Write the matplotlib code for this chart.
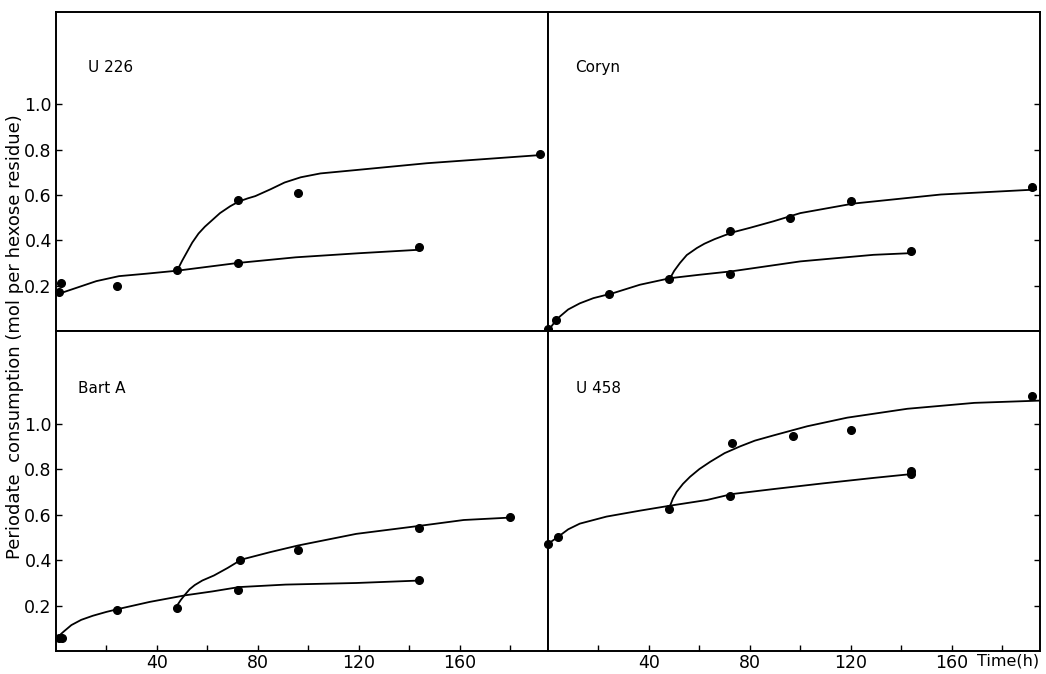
import matplotlib
matplotlib.use("Agg")
import matplotlib.pyplot as plt

plt.rcParams['font.family'] = ['DejaVu Sans']

# ---------------- data ----------------
panel_names = ["U 226", "Coryn", "Bart A", "U 458"]

# measured points
u226_t = [1, 2, 24, 48, 72, 72, 96, 144, 192]
u226_v = [0.17, 0.21, 0.20, 0.27, 0.30, 0.58, 0.61, 0.37, 0.78]
coryn_t = [0, 3, 24, 48, 72, 72, 96, 120, 144, 192]
coryn_v = [0.01, 0.05, 0.165, 0.23, 0.25, 0.44, 0.50, 0.575, 0.355, 0.635]
bart_t = [1, 2.5, 24, 48, 72, 73, 96, 144, 144, 180]
bart_v = [0.055, 0.055, 0.18, 0.19, 0.27, 0.40, 0.445, 0.31, 0.54, 0.587]
u458_t = [0, 4, 48, 72, 73, 97, 120, 144, 144, 192]
u458_v = [0.47, 0.50, 0.625, 0.68, 0.915, 0.945, 0.97, 0.78, 0.79, 1.12]

# hand-drawn curves (lower branch and upper branch), knots
u226_low_t = [0, 8, 16, 25, 36, 48, 60, 72, 95, 120, 145]
u226_low_v = [0.16, 0.19, 0.22, 0.242, 0.253, 0.266, 0.283, 0.30, 0.325, 0.343, 0.359]
u226_up_t = [48, 50, 52, 54, 56.5, 59, 61, 63, 65, 69, 72.4, 76, 79, 85, 90.6, 97, 104.8, 119, 147, 192]
u226_up_v = [0.266, 0.31, 0.35, 0.39, 0.43, 0.46, 0.48, 0.50, 0.52, 0.55, 0.571, 0.585, 0.595, 0.625, 0.655, 0.678, 0.695, 0.71, 0.74, 0.776]

coryn_low_t = [0, 2, 4.6, 8, 12.6, 18, 25.8, 36.4, 48.4, 60, 72.6, 100, 129, 145]
coryn_low_v = [0.0, 0.03, 0.063, 0.095, 0.122, 0.145, 0.167, 0.204, 0.233, 0.248, 0.263, 0.307, 0.336, 0.344]
coryn_up_t = [48.4, 50, 52.3, 55, 59, 62, 66, 70, 73.8, 80, 89.4, 100, 121, 155.7, 193.5]
coryn_up_v = [0.233, 0.265, 0.30, 0.335, 0.366, 0.385, 0.405, 0.422, 0.437, 0.455, 0.484, 0.52, 0.562, 0.602, 0.624]

bart_low_t = [0, 3, 6.1, 10, 14.6, 20, 25.6, 37.2, 51.3, 62, 72.5, 91, 119, 144.6]
bart_low_v = [0.055, 0.085, 0.114, 0.137, 0.155, 0.172, 0.187, 0.216, 0.245, 0.262, 0.281, 0.292, 0.299, 0.31]
bart_up_t = [48, 49.5, 51.3, 53, 55, 58, 62.6, 68, 73.5, 85, 96, 119, 144.6, 161.6, 180.7]
bart_up_v = [0.20, 0.225, 0.25, 0.272, 0.29, 0.31, 0.332, 0.365, 0.402, 0.435, 0.464, 0.515, 0.551, 0.576, 0.587]

u458_low_t = [0, 4, 8, 12.6, 23.2, 36.4, 48.4, 63, 72.9, 89.4, 109, 129, 145]
u458_low_v = [0.471, 0.502, 0.535, 0.56, 0.591, 0.617, 0.639, 0.664, 0.69, 0.712, 0.737, 0.761, 0.779]
u458_up_t = [48.4, 49.5, 51, 53.5, 56.3, 60, 64.3, 70, 76.2, 82, 89.4, 102.7, 118.6, 142.4, 169, 195]
u458_up_v = [0.639, 0.67, 0.70, 0.735, 0.766, 0.80, 0.832, 0.87, 0.90, 0.925, 0.948, 0.988, 1.026, 1.065, 1.091, 1.101]

x_ticks = [20, 40, 60, 80, 100, 120, 140, 160, 180]
x_tick_labels = ["", "40", "", "80", "", "120", "", "160", ""]
y_ticks = [0.2, 0.4, 0.6, 0.8, 1.0]
y_tick_labels = ["0.2", "0.4", "0.6", "0.8", "1.0"]

# ---------------- layout ----------------
W, H = 1046, 674
fig = plt.figure(figsize=(W / 100, H / 100), dpi=100)
L, Mx, R = 56 / W, 548 / W, 1040 / W
T, My, B = 1 - 12 / H, 1 - 331 / H, 1 - 651 / H

ax_tl = fig.add_axes([L, My, Mx - L, T - My])
ax_tr = fig.add_axes([Mx, My, R - Mx, T - My])
ax_bl = fig.add_axes([L, B, Mx - L, My - B])
ax_br = fig.add_axes([Mx, B, R - Mx, My - B])

panels = [
    (ax_tl, panel_names[0], u226_t, u226_v, u226_low_t, u226_low_v, u226_up_t, u226_up_v, (0.065, 0.825)),
    (ax_tr, panel_names[1], coryn_t, coryn_v, coryn_low_t, coryn_low_v, coryn_up_t, coryn_up_v, (0.055, 0.825)),
    (ax_bl, panel_names[2], bart_t, bart_v, bart_low_t, bart_low_v, bart_up_t, bart_up_v, (0.045, 0.82)),
    (ax_br, panel_names[3], u458_t, u458_v, u458_low_t, u458_low_v, u458_up_t, u458_up_v, (0.057, 0.82)),
]

for i, (ax, name, pt, pv, lt, lv, ut, uv, lpos) in enumerate(panels):
    ax.set_xlim(0, 195)
    ax.set_ylim(0, 1.407)
    ax.plot(lt, lv, color="black", lw=1.3, solid_capstyle="round", solid_joinstyle="round")
    ax.plot(ut, uv, color="black", lw=1.3, solid_capstyle="round", solid_joinstyle="round")
    ax.plot(pt, pv, "o", color="black", ms=5.5, clip_on=False)
    for sp in ax.spines.values():
        sp.set_linewidth(1.4)
        sp.set_color("black")
    ax.text(lpos[0], lpos[1], name, transform=ax.transAxes,
            fontsize=11, ha="left", va="center")
    left_col = (i % 2 == 0)
    bottom_row = (i >= 2)
    ax.set_yticks(y_ticks)
    if left_col:
        ax.set_yticklabels(y_tick_labels, fontsize=12.5)
        ax.tick_params(axis="y", direction="in", length=4, width=1, pad=3)
    else:
        ax.tick_params(axis="y", direction="in", length=4, width=1,
                       left=False, right=True, labelleft=False)
    if bottom_row:
        ax.set_xticks(x_ticks)
        ax.set_xticklabels(x_tick_labels, fontsize=12.5)
        ax.tick_params(axis="x", direction="in", length=4, width=1, pad=2)
    else:
        ax.set_xticks([])

ax_br.annotate("Time(h)", xy=(170, 0), xycoords=("data", "axes fraction"),
               xytext=(0, -2), textcoords="offset points",
               fontsize=11.5, ha="left", va="top", annotation_clip=False)

fig.text(0.014, 0.5, "Periodate  consumption (mol per hexose residue)",
         rotation=90, ha="center", va="center", fontsize=13)

fig.savefig("out.png", dpi=100)
